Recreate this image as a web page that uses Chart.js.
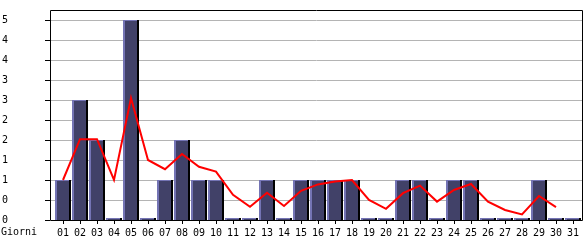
<!DOCTYPE html>
<html>
<head>
<meta charset="utf-8">
<script src="https://cdn.jsdelivr.net/npm/chart.js@4/dist/chart.umd.min.js"></script>
<style>
html,body{margin:0;padding:0;background:#fff;}
#c{display:block;}
</style>
</head>
<body>
<canvas id="c" width="585" height="240"></canvas>
<script>
const days = ['01','02','03','04','05','06','07','08','09','10','11','12','13','14','15','16','17','18','19','20','21','22','23','24','25','26','27','28','29','30','31'];
const visits = [1,3,2,0,5,0,1,2,1,1,0,0,1,0,1,1,1,1,0,0,1,1,0,1,1,0,0,0,1,0,0];
const trend = [1.0,2.02,2.02,1.0,3.05,1.5,1.27,1.65,1.33,1.21,0.63,0.33,0.68,0.35,0.73,0.89,0.96,1.0,0.5,0.28,0.67,0.86,0.46,0.75,0.9,0.46,0.25,0.14,0.6,0.32,null];
const yTickValues = [0,0.5,1,1.5,2,2.5,3,3.5,4,4.5,5];
const yTickLabels = ['0','0','1','1','2','2','3','3','4','4','5'];
const xAxisName = 'Giorni';

Chart.defaults.font.family = "'DejaVu Sans Mono', monospace";
Chart.defaults.font.size = 10;
Chart.defaults.color = '#000';

const framePlugin = {
  id: 'frame',
  beforeDatasetsDraw(chart) {
    const ctx = chart.ctx;
    const y = chart.scales.y;
    const ca = chart.chartArea;
    const L = 50, R = 583;
    ctx.save();
    ctx.lineWidth = 1;
    ctx.strokeStyle = '#b4b4b4';
    yTickValues.forEach(v => {
      if (v === 0) return;
      const py = Math.round(y.getPixelForValue(v)) + 0.5;
      ctx.beginPath(); ctx.moveTo(L, py); ctx.lineTo(R, py); ctx.stroke();
    });
    ctx.strokeStyle = '#000';
    yTickValues.forEach(v => {
      const py = Math.round(y.getPixelForValue(v)) + 0.5;
      ctx.beginPath(); ctx.moveTo(45, py); ctx.lineTo(L, py); ctx.stroke();
    });
    const top = ca.top + 0.5, bot = Math.round(y.getPixelForValue(0)) + 0.5;
    ctx.beginPath();
    ctx.moveTo(L + 0.5, top); ctx.lineTo(R - 0.5, top); ctx.lineTo(R - 0.5, bot); ctx.lineTo(L + 0.5, bot); ctx.closePath();
    ctx.stroke();
    ctx.restore();
  },
  afterDatasetDraw(chart, args) {
    if (args.index !== 0) return;
    const ctx = chart.ctx;
    ctx.save();
    ctx.fillStyle = '#000';
    args.meta.data.forEach(el => {
      const p = el.getProps(['x','y','base','width'], true);
      const h = p.base - p.y;
      ctx.fillRect(p.x + p.width / 2 - 2, p.y, 2, h);
    });
    ctx.restore();
  },
  afterDraw(chart) {
    const ctx = chart.ctx;
    ctx.save();
    ctx.font = "10px 'DejaVu Sans Mono', monospace";
    ctx.fillStyle = '#000';
    ctx.textBaseline = 'top';
    ctx.textAlign = 'left';
    ctx.fillText(xAxisName, 1, 227);
    ctx.restore();
  }
};

new Chart(document.getElementById('c'), {
  data: {
    labels: days,
    datasets: [
      {
        type: 'bar',
        data: visits,
        backgroundColor: '#414168',
        borderColor: '#7474b4',
        borderWidth: {top: 1, left: 2, right: 0, bottom: 0},
        borderSkipped: false,
        minBarLength: 2,
        barPercentage: 16/17,
        categoryPercentage: 1,
        order: 1
      },
      {
        type: 'line',
        data: trend,
        borderColor: '#ff0000',
        borderWidth: 2,
        pointRadius: 0,
        tension: 0,
        fill: false,
        order: 0
      }
    ]
  },
  options: {
    responsive: false,
    devicePixelRatio: 1,
    animation: false,
    events: [],
    layout: {padding: {left: 2, right: 3.5, top: 10, bottom: 0}},
    plugins: {legend: {display: false}, tooltip: {enabled: false}, title: {display: false}},
    scales: {
      x: {
        type: 'category',
        offset: true,
        grid: {display: true, drawOnChartArea: false, drawTicks: true, tickLength: 4, color: '#000', offset: false},
        border: {display: false},
        ticks: {padding: 3, autoSkip: false, maxRotation: 0, minRotation: 0},
        afterFit(s) { s.height = 20; }
      },
      y: {
        type: 'linear',
        min: 0,
        max: 5.25,
        grid: {display: false},
        border: {display: false},
        ticks: {
          crossAlign: 'far',
          padding: 0,
          callback(v) { const i = yTickValues.indexOf(v); return i >= 0 ? yTickLabels[i] : ''; }
        },
        afterBuildTicks(s) { s.ticks = yTickValues.map(v => ({value: v})); },
        afterFit(s) { s.width = 52.5; }
      }
    }
  },
  plugins: [framePlugin]
});
</script>
</body>
</html>
